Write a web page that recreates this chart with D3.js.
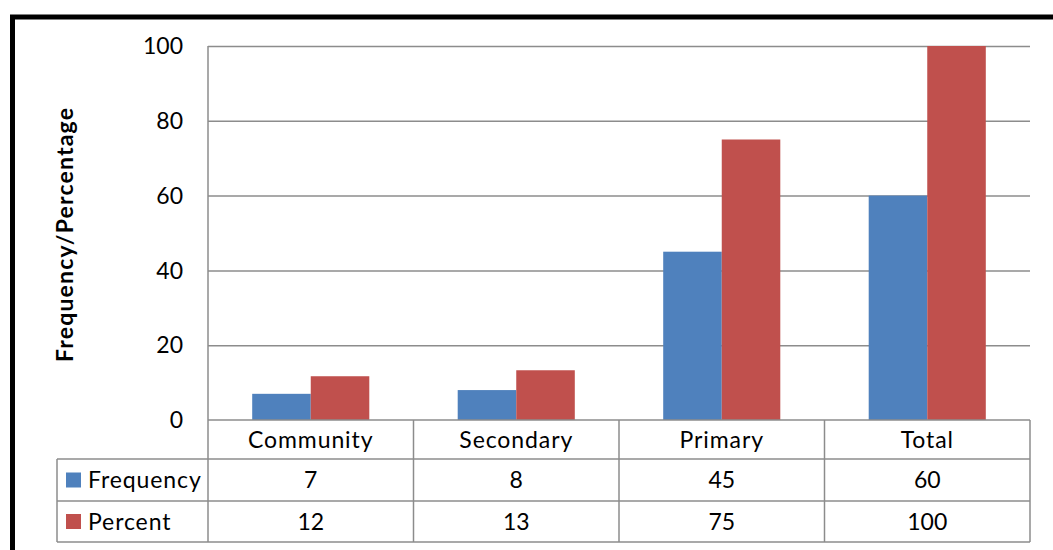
<!DOCTYPE html>
<html><head><meta charset="utf-8">
<script src="https://cdn.jsdelivr.net/npm/d3@7"></script>
<style>body{margin:0;background:#fff}svg{display:block}text{font-family:Lato,"Open Sans",sans-serif}</style>
</head><body>
<svg id="c" width="1053" height="550"></svg>
<script>
const categories = ["Community", "Secondary", "Primary", "Total"];
const seriesNames = ["Frequency", "Percent"];
const frequency = [7, 8, 45, 60];
const percent = [11.7, 13.3, 75, 100];
const yTicks = [0, 20, 40, 60, 80, 100];
const colors = ["#4F81BD", "#C0504D"];

const svg = d3.select("#c");
const L = 208, R = 1030, T = 46, B = 420;
const rowH = [39, 42, 41];
const tableLeft = 57;
const FS = 23, LS = 0.9;

// outer frame
svg.append("path").attr("d", `M12.5,550 V17 H1053`).attr("fill","none").attr("stroke","#000").attr("stroke-width",5);

const x = d3.scaleBand().domain(categories).range([L, R]).paddingInner(0).paddingOuter(0);
const y = d3.scaleLinear().domain([0, 100]).range([B, T]);
const xs = d3.scaleBand().domain(seriesNames).range([0, x.bandwidth()]).paddingInner(0).paddingOuter(0.755);

// gridlines
svg.append("g").selectAll("line").data(yTicks.filter(d=>d>0)).join("line")
  .attr("x1", L).attr("x2", R).attr("y1", d=>y(d)+0.5).attr("y2", d=>y(d)+0.5)
  .attr("stroke", "#8c8c8c").attr("stroke-width", 1.5);

// y tick labels
svg.append("g").selectAll("text").data(yTicks).join("text")
  .attr("x", 183).attr("y", d=>y(d)).attr("dy","0.36em").attr("text-anchor","end")
  .attr("font-size", FS).attr("fill","#000").text(d=>d);

// bars
const series = [frequency, percent];
series.forEach((vals, si) => {
  svg.append("g").selectAll("rect").data(vals).join("rect")
    .attr("x", (d,i)=>x(categories[i]) + xs(seriesNames[si]))
    .attr("width", xs.bandwidth())
    .attr("y", d=>y(d)).attr("height", d=>B - y(d))
    .attr("fill", colors[si]);
});

// y axis line
svg.append("line").attr("x1", L).attr("x2", L).attr("y1", T).attr("y2", B)
  .attr("stroke","#8c8c8c").attr("stroke-width",1.5);

// table
const g = svg.append("g");
const rowY = [B, B+rowH[0], B+rowH[0]+rowH[1], B+rowH[0]+rowH[1]+rowH[2]];
const stroke = "#8c8c8c";
g.append("line").attr("x1",L).attr("x2",R).attr("y1",rowY[0]).attr("y2",rowY[0]).attr("stroke",stroke).attr("stroke-width",1.5);
[1,2,3].forEach(k=>{
  g.append("line").attr("x1",tableLeft).attr("x2",R).attr("y1",rowY[k]).attr("y2",rowY[k]).attr("stroke",stroke).attr("stroke-width",1.5);
});
g.append("line").attr("x1",tableLeft).attr("x2",tableLeft).attr("y1",rowY[1]).attr("y2",rowY[3]).attr("stroke",stroke).attr("stroke-width",1.5);
categories.forEach(c=>{
  g.append("line").attr("x1",x(c)).attr("x2",x(c)).attr("y1",rowY[0]).attr("y2",rowY[3]).attr("stroke",stroke).attr("stroke-width",1.5);
});
g.append("line").attr("x1",R).attr("x2",R).attr("y1",rowY[0]).attr("y2",rowY[3]).attr("stroke",stroke).attr("stroke-width",1.5);

// category labels
g.selectAll("text.cat").data(categories).join("text").attr("class","cat")
  .attr("x", d=>x(d)+x.bandwidth()/2).attr("y",(rowY[0]+rowY[1])/2).attr("dy","0.36em")
  .attr("text-anchor","middle").attr("font-size",FS).attr("letter-spacing",LS).text(d=>d);

const fmt = d3.format(".0f");
series.forEach((vals, si)=>{
  const cy = (rowY[si+1]+rowY[si+2])/2;
  g.append("rect").attr("x",66).attr("y",cy-7.5).attr("width",15).attr("height",15).attr("fill",colors[si]);
  g.append("text").attr("x",88).attr("y",cy).attr("dy","0.36em").attr("font-size",FS).attr("letter-spacing",LS).text(seriesNames[si]);
  g.selectAll(null).data(vals).join("text")
    .attr("x",(d,i)=>x(categories[i])+x.bandwidth()/2).attr("y",cy).attr("dy","0.36em")
    .attr("text-anchor","middle").attr("font-size",FS).text(d=>fmt(d));
});

// y axis title
svg.append("text").attr("transform","translate(65,235) rotate(-90)")
  .attr("text-anchor","middle").attr("dy","0.36em").attr("font-size",23).attr("font-weight","bold")
  .attr("textLength",254).attr("lengthAdjust","spacing")
  .text("Frequency/Percentage");
</script>
</body></html>
